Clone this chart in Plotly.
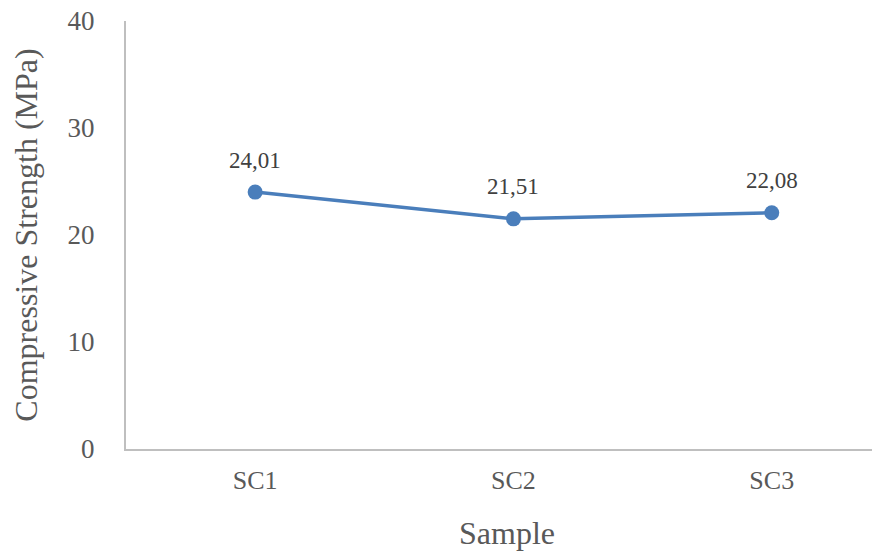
import plotly.graph_objects as go

samples = ["SC1", "SC2", "SC3"]
strength = [24.01, 21.51, 22.08]
labels = [f"{v:.2f}".replace(".", ",") for v in strength]
y_ticks = [0, 10, 20, 30, 40]

fig = go.Figure()
fig.add_trace(go.Scatter(
    x=samples, y=strength, mode="lines+markers",
    line=dict(color="#4A7EBB", width=3.5),
    marker=dict(color="#4A7EBB", size=15),
    showlegend=False, cliponaxis=False,
))
for s, v, t in zip(samples, strength, labels):
    fig.add_annotation(x=s, y=v, text=t, showarrow=False, yshift=32,
                       font=dict(family="Liberation Serif", size=23, color="#404040"))

fig.update_layout(
    width=880, height=552,
    margin=dict(l=118, r=0, t=13, b=111),
    paper_bgcolor="white", plot_bgcolor="white",
    font=dict(family="Liberation Serif", color="#595959"),
)
fig.update_xaxes(
    type="category", range=[-0.5, 2.45], automargin=False,
    showline=True, linecolor="#BFBFBF", linewidth=2,
    showgrid=False, ticks="", ticklabelstandoff=7,
    tickfont=dict(size=26, color="#595959"),
    title=dict(text="Sample", font=dict(size=32, color="#595959"), standoff=27),
)
fig.update_yaxes(
    range=[0, 40], tickvals=y_ticks, automargin=False,
    ticklabeloverflow="allow",
    showline=True, linecolor="#BFBFBF", linewidth=2,
    showgrid=False, zeroline=False, ticks="",
    ticklabelstandoff=24,
    tickfont=dict(size=27, color="#595959"),
    title=dict(text="Compressive Strength (MPa)", font=dict(size=32, color="#595959"), standoff=26),
)
fig.write_html("out.html")
